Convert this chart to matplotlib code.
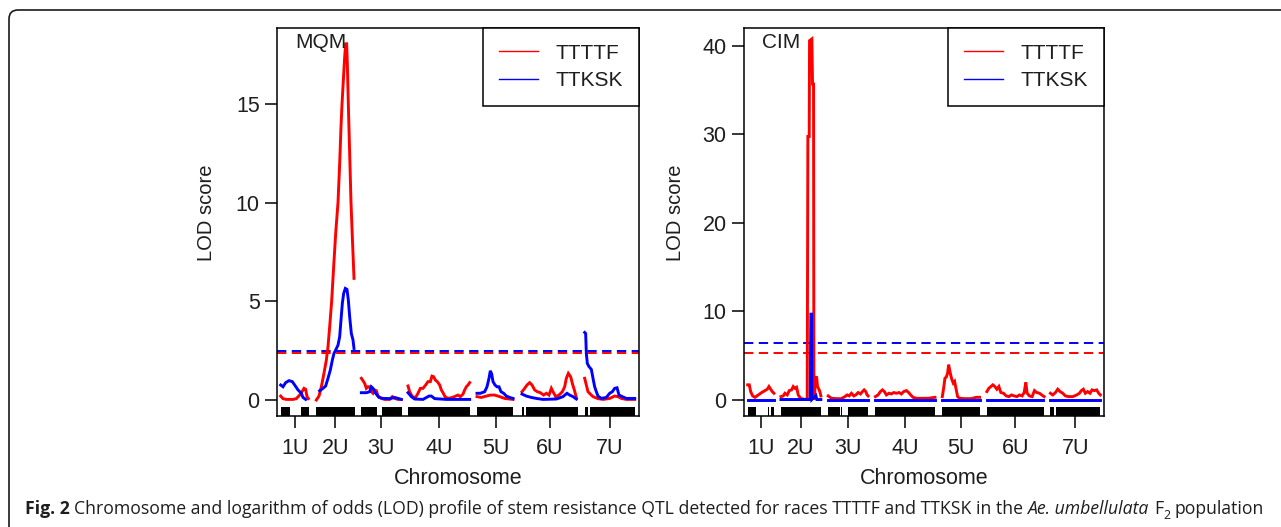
import matplotlib
matplotlib.use("Agg")
import matplotlib.pyplot as plt
from matplotlib.patches import FancyBboxPatch
from matplotlib.lines import Line2D
from matplotlib.transforms import IdentityTransform
from matplotlib import font_manager

# ---------------- data ----------------
chromosomes = ["1U", "2U", "3U", "4U", "5U", "6U", "7U"]

# genetic map lengths (cM-like units) and gap between chromosomes
mqm_chr_len = [85, 117, 120, 187, 115, 168, 152]
cim_chr_len = [79, 121, 121, 180, 113, 170, 150]
mqm_gap = 20
cim_gap = 21

# marker coverage segments (start, end) relative to chromosome start
mqm_markers = [[(0, 29), (60, 85)], [(0, 117)], [(0, 47), (62, 121)], [(0, 186)],
               [(0, 109)], [(0, 6), (11, 167)], [(0, 10), (15, 152)]]
cim_markers = [[(0, 24), (60, 65), (71, 79)], [(0, 120)], [(0, 35), (40, 43), (60, 120)],
               [(0, 179)], [(0, 112)], [(0, 172)], [(0, 12), (17, 150)]]

# MQM, race TTTTF
mqm_ttttf_pos = [
    [0, 7, 17, 27, 37, 47, 57, 64, 70, 75, 79, 83],
    [2, 10, 17, 24, 32, 37, 42, 48, 54, 60, 67, 72, 76, 79, 83, 87, 90, 93, 95, 98, 102, 106, 110, 115],
    [0, 5, 10, 15, 20, 25, 30, 35, 40, 45, 50, 60, 70, 85, 93, 100, 110, 120],
    [0, 5, 13, 23, 30, 37, 45, 53, 60, 67, 72, 77, 82, 88, 95, 100, 105, 111, 120, 133, 143, 150, 157, 165, 170, 175, 180, 185],
    [0, 13, 28, 40, 53, 68, 83, 108],
    [0, 8, 15, 23, 30, 38, 46, 55, 65, 73, 81, 88, 93, 101, 111, 121, 128, 133, 139, 146, 151, 157, 163],
    [0, 5, 10, 17, 25, 40, 55, 75, 90, 100, 110, 125, 150],
]
mqm_ttttf_lod = [
    [0.20, 0.07, 0.03, 0.03, 0.03, 0.07, 0.25, 0.42, 0.59, 0.54, 0.17, 0.07],
    [0.0, 0.2, 0.67, 1.27, 2.02, 2.7, 3.71, 5.01, 6.75, 8.43, 10.0, 11.97, 13.83, 14.97, 16.19, 17.37, 18.04, 18.04, 17.03, 14.97, 12.48, 10.0, 8.26, 6.16],
    [1.10, 0.98, 0.84, 0.59, 0.67, 0.67, 0.42, 0.34, 0.51, 0.47, 0.20, 0.08, 0.03, 0.03, 0.17, 0.08, 0.03, 0.03],
    [0.71, 0.42, 0.17, 0.13, 0.34, 0.59, 0.59, 0.76, 0.93, 0.93, 1.21, 1.18, 1.01, 0.93, 0.76, 0.51, 0.37, 0.17, 0.08, 0.13, 0.20, 0.25, 0.17, 0.30, 0.51, 0.67, 0.76, 0.88],
    [0.17, 0.13, 0.20, 0.25, 0.25, 0.17, 0.08, 0.03],
    [0.42, 0.59, 0.76, 0.88, 0.76, 0.51, 0.42, 0.37, 0.25, 0.34, 0.25, 0.59, 0.42, 0.17, 0.25, 0.42, 0.67, 1.10, 1.35, 1.18, 0.84, 0.51, 0.12],
    [1.10, 0.76, 0.42, 0.30, 0.17, 0.07, 0.03, 0.08, 0.20, 0.17, 0.08, 0.03, 0.03],
]

# MQM, race TTKSK
mqm_ttksk_pos = [
    [0, 7, 15, 25, 35, 42, 52, 62, 67, 75],
    [12, 22, 30, 37, 44, 50, 55, 60, 67, 72, 76, 80, 84, 89, 94, 98, 102, 107, 112, 115],
    [0, 15, 25, 30, 35, 43, 53, 65, 85, 100, 120],
    [0, 10, 20, 45, 63, 70, 80, 115, 185],
    [0, 10, 23, 30, 36, 40, 44, 48, 54, 60, 66, 72, 80, 88, 98, 108],
    [0, 13, 28, 43, 63, 103, 123, 135, 143, 153, 163],
    [0, 3, 5, 8, 13, 20, 25, 30, 35, 40, 50, 65, 75, 83, 90, 97, 103, 113, 125, 150],
]
mqm_ttksk_lod = [
    [0.76, 0.67, 0.88, 0.98, 0.93, 0.76, 0.51, 0.34, 0.13, 0.03],
    [0.47, 0.59, 0.71, 1.10, 1.52, 2.02, 2.36, 2.53, 2.78, 3.20, 4.05, 4.89, 5.40, 5.65, 5.60, 5.06, 4.22, 3.37, 3.04, 2.61],
    [0.37, 0.37, 0.42, 0.67, 0.59, 0.34, 0.13, 0.08, 0.07, 0.13, 0.03],
    [0.37, 0.17, 0.05, 0.03, 0.20, 0.20, 0.07, 0.03, 0.03],
    [0.34, 0.34, 0.42, 0.67, 1.10, 1.48, 1.32, 0.93, 0.76, 0.67, 0.67, 0.42, 0.34, 0.20, 0.13, 0.08],
    [0.30, 0.20, 0.13, 0.08, 0.03, 0.05, 0.17, 0.34, 0.25, 0.17, 0.05],
    [3.42, 3.37, 2.36, 1.85, 1.69, 1.55, 1.10, 0.67, 0.42, 0.20, 0.08, 0.13, 0.34, 0.42, 0.59, 0.62, 0.25, 0.17, 0.08, 0.08],
]

# CIM, race TTTTF
cim_ttttf_pos = [
    [0, 5, 9, 15, 22, 32, 42, 52, 59, 64, 69, 74, 79],
    [0, 7, 12, 19, 25, 32, 37, 42, 47, 52, 59, 69, 79, 81, 85, 86, 93, 95, 98, 99, 101, 103, 107, 110, 114, 117, 120],
    [0, 10, 25, 40, 50, 57, 63, 70, 77, 83, 90, 97, 103, 108, 113, 117, 120],
    [0, 8, 15, 21, 27, 33, 41, 48, 55, 63, 71, 78, 85, 93, 100, 106, 113, 123, 138, 158, 179],
    [0, 4, 8, 12, 16, 19, 22, 25, 29, 33, 37, 42, 46, 52, 67, 87, 102, 112],
    [0, 6, 12, 18, 24, 30, 36, 42, 50, 58, 66, 74, 82, 90, 98, 106, 112, 117, 121, 128, 136, 143, 150, 158, 165, 172],
    [0, 7, 15, 22, 29, 37, 45, 55, 67, 79, 87, 93, 99, 105, 112, 119, 125, 132, 139, 145, 150],
]
cim_ttttf_lod = [
    [1.71, 1.71, 0.95, 0.46, 0.30, 0.57, 0.84, 1.06, 1.22, 1.52, 1.22, 0.95, 0.76],
    [0.38, 0.46, 0.76, 0.57, 1.06, 1.14, 1.52, 1.33, 1.44, 0.57, 0.19, 0.08, 0.08, 29.77, 29.77, 40.6, 40.8, 35.7, 35.7, 3.04, 0.0, 2.28, 2.66, 1.52, 1.22, 0.95, 0.46],
    [0.46, 0.19, 0.15, 0.15, 0.38, 0.57, 0.46, 0.76, 0.46, 0.57, 0.84, 0.68, 0.95, 1.14, 0.95, 0.57, 0.46],
    [0.38, 0.57, 0.95, 1.14, 0.95, 0.57, 0.76, 0.68, 0.84, 0.76, 0.84, 0.68, 0.95, 1.06, 0.84, 0.57, 0.30, 0.19, 0.19, 0.19, 0.30],
    [0.38, 1.33, 2.47, 2.59, 3.04, 3.99, 3.42, 2.85, 2.28, 1.90, 2.09, 1.14, 0.38, 0.19, 0.15, 0.15, 0.30, 0.30],
    [0.95, 1.33, 1.52, 1.71, 1.52, 1.22, 1.52, 0.84, 0.76, 0.46, 0.38, 0.57, 0.46, 0.38, 0.57, 0.46, 0.84, 1.98, 0.76, 0.46, 0.38, 1.06, 0.84, 0.76, 0.57, 0.38],
    [0.76, 0.57, 0.84, 1.22, 0.95, 0.76, 0.46, 0.38, 0.38, 0.57, 0.76, 1.06, 1.22, 0.76, 0.95, 0.76, 1.14, 1.06, 1.14, 0.76, 0.57],
]

# CIM, race TTKSK
cim_ttksk_pos = [
    [0, 79],
    [0, 88, 90, 92, 93, 105, 108, 120],
    [0, 121],
    [0, 180],
    [0, 113],
    [0, 170],
    [0, 150],
]
cim_ttksk_lod = [
    [0.05, 0.05],
    [0.05, 0.05, 9.7, 9.7, 0.05, 0.5, 0.05, 0.05],
    [0.05, 0.05],
    [0.05, 0.05],
    [0.05, 0.05],
    [0.05, 0.05],
    [0.05, 0.05],
]

# significance thresholds
mqm_thr = {"TTTTF": 2.36, "TTKSK": 2.48}
cim_thr = {"TTTTF": 5.32, "TTKSK": 6.39}

races = ["TTTTF", "TTKSK"]
race_colors = {"TTTTF": "#ff0000", "TTKSK": "#0000ff"}

# ---------------- figure ----------------
W, H = 1281, 527
fig = plt.figure(figsize=(W / 100, H / 100), dpi=100)
fig.patch.set_facecolor("white")

AX_FONT = "Liberation Sans"
TXT = "#1e1e1e"


def chrom_starts(lengths, gap):
    starts, s = [], 0
    for L in lengths:
        starts.append(s)
        s += L + gap
    return starts


def draw_panel(rect, lengths, gap, markers, curves, thr, ylim, yticks, bar_top, label):
    ax = fig.add_axes(rect)
    starts = chrom_starts(lengths, gap)
    total = starts[-1] + lengths[-1]
    for race in races:
        pos, lod = curves[race]
        for s, p, l in zip(starts, pos, lod):
            ax.plot([s + v for v in p], l, color=race_colors[race], lw=2.1,
                    solid_joinstyle="miter", zorder=3)
    for race in races:
        ax.axhline(thr[race], color=race_colors[race], lw=1.4,
                   linestyle=(0, (4.8, 2.8)), zorder=2)
    # marker coverage bars
    for s, segs in zip(starts, markers):
        ax.broken_barh([(s + a, b - a) for a, b in segs], (ylim[0], bar_top - ylim[0]),
                       facecolor="black", edgecolor="none", zorder=4)
    ax.set_xlim(-11, total + 11)
    ax.set_ylim(*ylim)
    ax.set_yticks(yticks)
    ax.set_xticks([s + L / 2 for s, L in zip(starts, lengths)])
    ax.set_xticklabels(chromosomes)
    for sp in ax.spines.values():
        sp.set_linewidth(1.1)
    ax.tick_params(axis="both", direction="out", length=8.5, width=1.1,
                   labelsize=15.5, colors="black")
    ax.tick_params(axis="x", pad=7)
    ax.tick_params(axis="y", pad=4)
    for t in ax.get_xticklabels() + ax.get_yticklabels():
        t.set_fontfamily(AX_FONT)
        t.set_color(TXT)
    ax.set_xlabel("Chromosome", fontsize=15.5, fontfamily=AX_FONT, color=TXT, va="center")
    ax.set_ylabel("LOD score", fontsize=14.5, fontfamily=AX_FONT, color=TXT, va="center")
    ax.xaxis.set_label_coords(0.5, -0.16)
    ax.text(0.05, 0.962, label, transform=ax.transAxes, ha="left", va="center",
            fontsize=15, fontfamily=AX_FONT, color=TXT)
    handles = [Line2D([], [], color=race_colors[r], lw=1.0) for r in races]
    leg = ax.legend(handles, races, loc="upper right", borderaxespad=0,
                    fancybox=False, framealpha=1, edgecolor="black",
                    prop={"family": AX_FONT, "size": 15},
                    handlelength=1.9, handletextpad=0.85, borderpad=0.75,
                    labelspacing=0.42)
    leg.get_frame().set_linewidth(1.1)
    for t in leg.get_texts():
        t.set_color(TXT)
    return ax


axL = draw_panel([277 / W, 1 - 416 / H, 362 / W, 388 / H], mqm_chr_len, mqm_gap, mqm_markers,
                 {"TTTTF": (mqm_ttttf_pos, mqm_ttttf_lod), "TTKSK": (mqm_ttksk_pos, mqm_ttksk_lod)},
                 mqm_thr, (-0.81, 18.84), [0, 5, 10, 15], -0.35, "MQM")
axL.yaxis.set_label_coords(-0.196, 0.523)

axR = draw_panel([744 / W, 1 - 416 / H, 360 / W, 388 / H], cim_chr_len, cim_gap, cim_markers,
                 {"TTTTF": (cim_ttttf_pos, cim_ttttf_lod), "TTKSK": (cim_ttksk_pos, cim_ttksk_lod)},
                 cim_thr, (-1.81, 42.03), [0, 10, 20, 30, 40], -0.79, "CIM")
axR.yaxis.set_label_coords(-0.189, 0.523)

# ---------------- frame around figure ----------------
frame = FancyBboxPatch((9, -40), 1320, H - 10 + 40, boxstyle="round,pad=0,rounding_size=9",
                       transform=IdentityTransform(), fill=False, lw=1.2, ec="#1a1a1a")
fig.add_artist(frame)


# ---------------- caption ----------------
def has_font(name):
    try:
        font_manager.findfont(font_manager.FontProperties(family=name), fallback_to_default=False)
        return True
    except Exception:
        return False


cap_font = next(f for f in ["Liberation Sans Narrow", "Open Sans", "Noto Sans", "DejaVu Sans"] if has_font(f))
renderer = fig.canvas.get_renderer()


def width_px(s, size, **kw):
    t = fig.text(0, 0, s, fontsize=size, fontfamily=cap_font, **kw)
    w = t.get_window_extent(renderer).width
    t.remove()
    return w


pieces = [("Fig. 2", {"fontweight": "bold"}, False),
          ("Chromosome and logarithm of odds (LOD) profile of stem resistance QTL detected for races TTTTF and TTKSK in the", {}, True),
          ("Ae. umbellulata", {"fontstyle": "italic"}, True),
          ("F", {}, True),
          ("2", {"sub": True}, False),
          ("population", {}, True)]


def layout(size, draw=False, x0=25, baseline=514):
    sp = width_px("a a", size) - width_px("aa", size)
    x = x0
    for i, (s, kw, lead_space) in enumerate(pieces):
        kw = dict(kw)
        sub = kw.pop("sub", False)
        if lead_space and i > 0:
            x += sp
        fs = size * 0.7 if sub else size
        yb = baseline + (size * 0.28 * 100 / 72 if sub else 0)
        if draw:
            fig.text(x / W, 1 - yb / H, s, fontsize=fs, fontfamily=cap_font, va="baseline",
                     ha="left", color=TXT, **kw)
        x += width_px(s, fs, **kw)
    return x - x0


base = 11.5
wtot = layout(base)
size = base * 1240 / wtot
layout(size, draw=True)

fig.savefig("out.png", dpi=100, facecolor="white")
